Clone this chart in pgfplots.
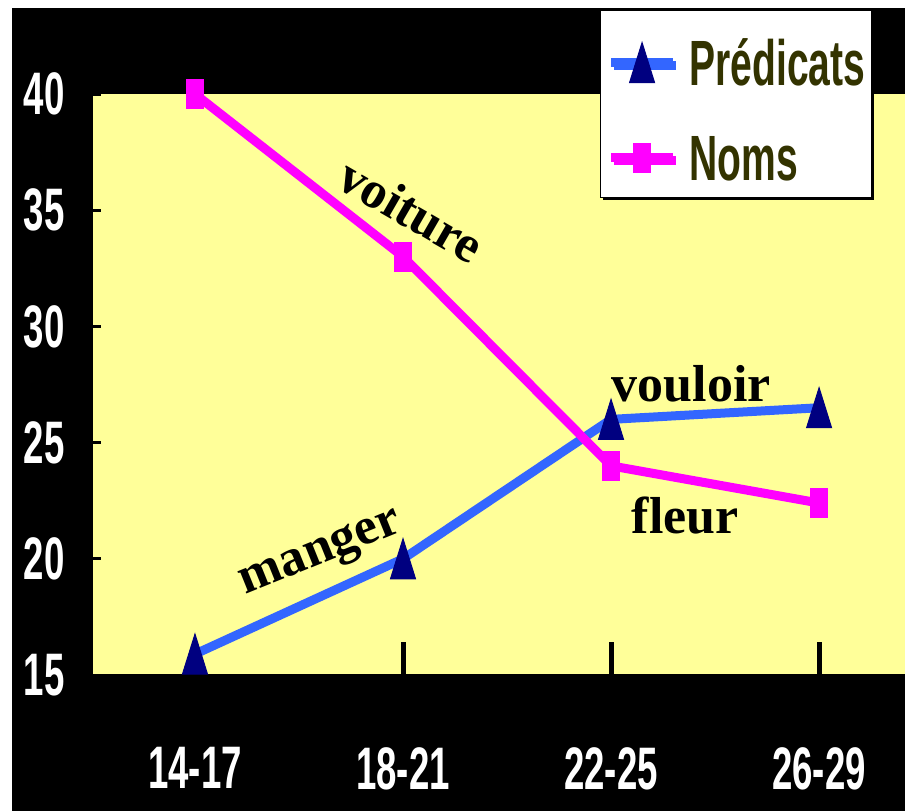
\documentclass[border=0pt]{standalone}
\usepackage{fontspec}
\setmainfont{Liberation Sans}[FakeStretch=0.61]
\newfontfamily\timesb{Liberation Serif}
\usepackage{pgfplots}
\pgfplotsset{compat=1.18}
\usetikzlibrary{shadows}

\definecolor{bgyellow}{HTML}{FFFF99}
\definecolor{lineblue}{HTML}{3366FF}
\definecolor{marknavy}{HTML}{000080}
\definecolor{magenta}{HTML}{FF00FF}
\definecolor{legtext}{HTML}{333300}

% tall markers (the original is horizontally squeezed)
\pgfdeclareplotmark{talltri}{%
  \pgfpathmoveto{\pgfqpoint{0pt}{10pt}}%
  \pgfpathlineto{\pgfqpoint{6.25pt}{-10pt}}%
  \pgfpathlineto{\pgfqpoint{-6.25pt}{-10pt}}%
  \pgfpathclose\pgfusepathqfillstroke}
\pgfdeclareplotmark{tallsq}{%
  \pgfpathrectangle{\pgfqpoint{-4.25pt}{-7.25pt}}{\pgfqpoint{8.5pt}{14.5pt}}%
  \pgfusepathqfillstroke}

\pgfplotstableread{
x pred noms
0 15.9 40
1 20   33
2 26   24
3 26.5 22.4
}\agedata

\begin{document}
\begin{tikzpicture}
\fill[white] (-46pt,-68pt) rectangle (406.5pt,337.5pt);
\fill[black] (-40pt,-68pt) rectangle (406.5pt,333.5pt);
\begin{axis}[
    scale only axis, width=406.5pt, height=290.5pt,
    xmin=-0.495, xmax=3.413, ymin=15, ymax=40,
    axis x line*=bottom, axis y line*=left,
    axis line style={draw=black, line width=1pt},
    axis background/.style={fill=bgyellow},
    clip=false,
    xtick={0,1,2,3}, xticklabels={14-17,18-21,22-25,26-29},
    ytick={15,20,...,40},
    tick align=inside,
    xtick style={draw=black, line width=2.5pt, /pgfplots/major tick length=16.5pt},
    ytick style={draw=black, line width=1.5pt, /pgfplots/major tick length=4.5pt},
    /pgf/number format/assume math mode=true,
    tick label style={text=white, font=\fontsize{30}{30}\selectfont\bfseries, inner sep=0pt},
    xticklabel style={anchor=north, yshift=-36pt},
    yticklabel style={anchor=east, xshift=-13.5pt},
    legend style={at={(axis description cs:0.6248,1.1446)}, anchor=north west,
        draw=black, line width=0.6pt, fill=white,
        general shadow={fill=black, shadow xshift=1.3pt, shadow yshift=-1.3pt},
        inner xsep=3pt, inner ysep=0pt, row sep=1.5pt, column sep=6pt,
        nodes={anchor=base west, inner sep=0pt, text height=37.5pt, text depth=8.5pt,
               text=legtext, font=\fontsize{32}{32}\selectfont\bfseries}},
    legend cell align=left,
    legend image code/.code={
        \draw[mark repeat=2, mark phase=2, #1]
            plot coordinates {(0pt,11.5pt) (15.5pt,11.5pt) (31pt,11.5pt)};
    },
]
\addplot[lineblue, line width=4.5pt, mark=talltri,
    mark options={draw=marknavy, fill=marknavy, line width=0.5pt}]
    table[x=x, y=pred] {\agedata};
\addlegendentry{Prédicats}
\addplot[magenta, line width=4.5pt, mark=tallsq,
    mark options={draw=magenta, fill=magenta, line width=0.5pt}]
    table[x=x, y=noms] {\agedata};
\addlegendentry{Noms}

\node[font=\timesb\bfseries\fontsize{26}{26}\selectfont, rotate=-30] at (axis cs:1.04,35.0) {voiture};
\node[font=\timesb\bfseries\fontsize{26}{26}\selectfont, rotate=22] at (axis cs:0.61,20.15) {manger};
\node[font=\timesb\bfseries\fontsize{26}{26}\selectfont] at (axis cs:2.385,27.54) {vouloir};
\node[font=\timesb\bfseries\fontsize{26}{26}\selectfont] at (axis cs:2.356,21.87) {fleur};
\end{axis}
\pgfresetboundingbox
\path[use as bounding box] (-46pt,-68pt) rectangle (406.5pt,337.5pt);
\end{tikzpicture}
\end{document}
